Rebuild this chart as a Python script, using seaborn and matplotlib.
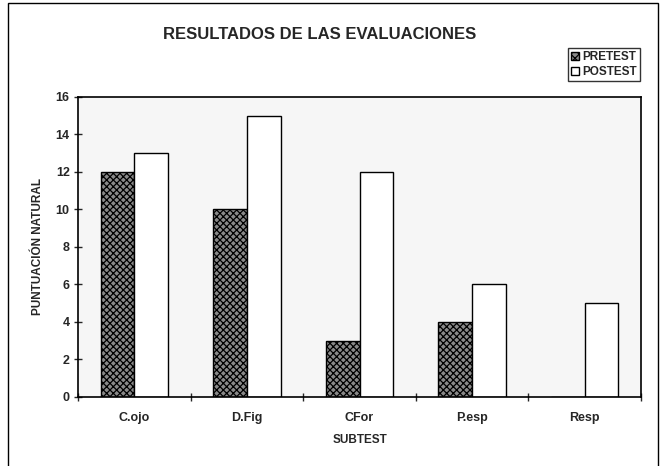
import matplotlib
matplotlib.use("Agg")
import matplotlib.pyplot as plt
from matplotlib.patches import Rectangle, Patch
import seaborn as sns
import pandas as pd

subtests = ["C.ojo", "D.Fig", "CFor", "P.esp", "Resp"]
pretest = [12, 10, 3, 4, 0]
postest = [13, 15, 12, 6, 5]
series_names = ["PRETEST", "POSTEST"]


def main():
    sns.set_theme(style="white")
    plt.rcParams['font.family'] = ['Liberation Sans Narrow', 'Liberation Sans', 'DejaVu Sans']
    plt.rcParams['font.weight'] = 'bold'
    plt.rcParams['hatch.linewidth'] = 0.9

    df = pd.DataFrame({
        'subtest': subtests * 2,
        'score': pretest + postest,
        'test': [series_names[0]] * len(subtests) + [series_names[1]] * len(subtests),
    })

    fig = plt.figure(figsize=(6.68, 4.66), dpi=100)
    ax = fig.add_axes([0.1168, 0.1481, 0.8428, 0.6438])
    ax.set_facecolor('#f6f6f6')

    sns.barplot(data=df, x='subtest', y='score', hue='test',
                palette=['#8a8a8a', 'white'], width=0.6,
                edgecolor='black', linewidth=1.0, saturation=1,
                legend=False, ax=ax)
    for p in ax.patches[:len(subtests)]:
        p.set_hatch('xxxxx')

    ax.set_ylim(0, 16)
    ax.set_xlim(-0.5, len(subtests) - 0.5)
    ax.set_yticks(range(0, 17, 2))
    ax.set_xticks(range(len(subtests)))
    ax.set_xticklabels(subtests)
    ax.set_xticks([i - 0.5 for i in range(len(subtests) + 1)], minor=True)
    ax.tick_params(axis='x', which='major', length=0, pad=11, labelsize=9)
    ax.tick_params(axis='x', which='minor', direction='inout', length=6, width=1, bottom=True)
    ax.tick_params(axis='y', direction='inout', length=6, width=1, left=True, pad=3, labelsize=9)
    for s in ax.spines.values():
        s.set_color('black')
        s.set_linewidth(1.2)

    ax.set_xlabel('SUBTEST', fontsize=8.5, fontweight='bold', labelpad=7)
    ax.set_ylabel('PUNTUACIÓN NATURAL', fontsize=8.5, fontweight='bold', labelpad=8)

    fig.text(0.479, 0.926, 'RESULTADOS DE LAS EVALUACIONES',
             ha='center', va='center', fontsize=12, fontweight='bold')

    handles = [Patch(facecolor='#8a8a8a', edgecolor='black', hatch='xxxx'),
               Patch(facecolor='white', edgecolor='black')]
    leg = fig.legend(handles, series_names, loc='upper right',
                     bbox_to_anchor=(0.958, 0.897), fontsize=8.5,
                     frameon=True, fancybox=False, handlelength=0.7,
                     handleheight=0.7, handletextpad=0.3,
                     borderpad=0.25, labelspacing=0.3, borderaxespad=0)
    leg.get_frame().set_edgecolor('black')
    leg.get_frame().set_linewidth(1.0)

    frame = Rectangle((8 / 668, -0.02), 650 / 668, 1 - 3 / 466 + 0.02,
                      transform=fig.transFigure, fill=False,
                      edgecolor='black', linewidth=1.0)
    fig.patches.append(frame)

    fig.savefig('out.png', dpi=100)
    plt.close(fig)


if __name__ == '__main__':
    main()
